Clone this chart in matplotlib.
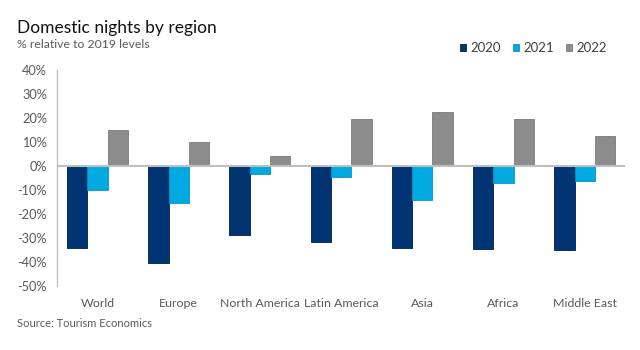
import numpy as np
import matplotlib.pyplot as plt
from matplotlib.ticker import FuncFormatter

plt.rcParams['font.family'] = ['Lato', 'DejaVu Sans']

# data (% relative to 2019)
regions = ["World", "Europe", "North America", "Latin America", "Asia", "Africa", "Middle East"]
y2020 = [-34.2, -40.4, -28.7, -31.7, -34.0, -34.6, -35.0]
y2021 = [-10.0, -15.4, -3.3, -4.6, -14.0, -7.0, -6.4]
y2022 = [15.0, 10.0, 4.2, 19.4, 22.6, 19.4, 12.6]

series = [("2020", y2020, "#003473", "#001f4d"),
          ("2021", y2021, "#00a9e0", "#0096c8"),
          ("2022", y2022, "#8c8c8c", "#7a7a7a")]

fig = plt.figure(figsize=(6.4, 3.5), dpi=100)
ax = fig.add_axes([0.089, 0.183, 0.888, 0.617])

x = np.arange(len(regions))
w = 0.25
for i, (name, vals, col, edge) in enumerate(series):
    ax.bar(x + (i - 1) * w, vals, w, color=col, edgecolor=edge, linewidth=0.6, label=name, zorder=2)

ax.axhline(0, color="#bfbfbf", linewidth=1.5, zorder=3)
ax.set_xlim(-0.5, 6.5)
ax.set_ylim(-50, 40)
ax.set_yticks(np.arange(-50, 41, 10))
ax.yaxis.set_major_formatter(FuncFormatter(lambda v, p: f"{v:.0f}%"))
ax.set_xticks(x)
ax.set_xticklabels(regions)
ax.tick_params(axis="both", length=0, labelsize=9.2, colors="#595959")
ax.tick_params(axis="x", labelsize=8.9, pad=9)
ax.tick_params(axis="y", pad=7)

for s in ["top", "right", "bottom"]:
    ax.spines[s].set_visible(False)
ax.spines["left"].set_color("#bfbfbf")
ax.spines["left"].set_linewidth(1.0)

fig.text(0.026, 0.906, "Domestic nights by region", fontsize=12.5, color="#111111")
fig.text(0.026, 0.863, "% relative to 2019 levels", fontsize=8.8, color="#595959")
fig.text(0.026, 0.066, "Source: Tourism Economics", fontsize=8.0, color="#595959")

leg = fig.legend(loc="center right", bbox_to_anchor=(0.948, 0.862), ncol=3, frameon=False,
                 fontsize=9.5, handlelength=0.5, handleheight=0.5, handletextpad=0.3,
                 columnspacing=0.9, borderpad=0, borderaxespad=0)
for t in leg.get_texts():
    t.set_color("#404040")

plt.savefig("out.png", dpi=100)
